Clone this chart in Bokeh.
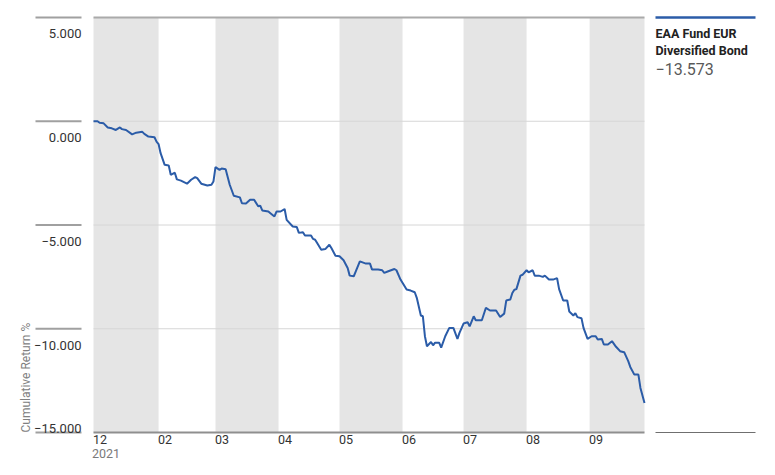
import math
import pandas as pd
from bokeh.plotting import figure
from bokeh.models import Range1d, FixedTicker, DatetimeAxis
from bokeh.core.properties import value
from bokeh.embed import file_html
from bokeh.resources import INLINE

# ---------------- data ----------------
dates = [
    "2021-12-31", "2022-01-02", "2022-01-03", "2022-01-05", "2022-01-07", "2022-01-09", "2022-01-11", "2022-01-13", "2022-01-14", "2022-01-16",
    "2022-01-19", "2022-01-21", "2022-01-24", "2022-01-25", "2022-01-27", "2022-01-30", "2022-01-31", "2022-02-01", "2022-02-02", "2022-02-04",
    "2022-02-06", "2022-02-07", "2022-02-09", "2022-02-10", "2022-02-12", "2022-02-15", "2022-02-17", "2022-02-19", "2022-02-20", "2022-02-22",
    "2022-02-25", "2022-02-27", "2022-02-28", "2022-03-01", "2022-03-03", "2022-03-04", "2022-03-06", "2022-03-08", "2022-03-10", "2022-03-13",
    "2022-03-14", "2022-03-16", "2022-03-18", "2022-03-20", "2022-03-22", "2022-03-23", "2022-03-24", "2022-03-27", "2022-03-28", "2022-03-30",
    "2022-03-31", "2022-04-02", "2022-04-04", "2022-04-05", "2022-04-08", "2022-04-10", "2022-04-11", "2022-04-13", "2022-04-14", "2022-04-17",
    "2022-04-18", "2022-04-19", "2022-04-20", "2022-04-22", "2022-04-24", "2022-04-26", "2022-04-27", "2022-04-29", "2022-05-01", "2022-05-03",
    "2022-05-05", "2022-05-06", "2022-05-08", "2022-05-09", "2022-05-11", "2022-05-14", "2022-05-16", "2022-05-17", "2022-05-20", "2022-05-22",
    "2022-05-23", "2022-05-25", "2022-05-28", "2022-05-29", "2022-05-31", "2022-06-03", "2022-06-05", "2022-06-07", "2022-06-08", "2022-06-10",
    "2022-06-11", "2022-06-12", "2022-06-13", "2022-06-15", "2022-06-16", "2022-06-17", "2022-06-19", "2022-06-20", "2022-06-22", "2022-06-24",
    "2022-06-26", "2022-06-28", "2022-06-29", "2022-07-01", "2022-07-03", "2022-07-04", "2022-07-06", "2022-07-07", "2022-07-10", "2022-07-12",
    "2022-07-14", "2022-07-17", "2022-07-19", "2022-07-21", "2022-07-22", "2022-07-24", "2022-07-25", "2022-07-26", "2022-07-27", "2022-07-29",
    "2022-07-30", "2022-08-01", "2022-08-02", "2022-08-04", "2022-08-05", "2022-08-07", "2022-08-09", "2022-08-10", "2022-08-12", "2022-08-14",
    "2022-08-16", "2022-08-17", "2022-08-19", "2022-08-21", "2022-08-22", "2022-08-24", "2022-08-25", "2022-08-26", "2022-08-28", "2022-08-29",
    "2022-08-31", "2022-09-02", "2022-09-04", "2022-09-05", "2022-09-07", "2022-09-08", "2022-09-10", "2022-09-12", "2022-09-14", "2022-09-16",
    "2022-09-18", "2022-09-20", "2022-09-21", "2022-09-23", "2022-09-25", "2022-09-26", "2022-09-28",
]
returns = [
    0.00, 0.00, -0.07, -0.10, -0.30, -0.34, -0.42, -0.30, -0.38, -0.42,
    -0.63, -0.55, -0.51, -0.61, -0.74, -0.77, -0.98, -1.10, -1.54, -2.10,
    -2.13, -2.58, -2.48, -2.80, -2.86, -3.01, -2.82, -2.69, -2.74, -3.01,
    -3.10, -3.06, -2.90, -2.21, -2.34, -2.28, -2.31, -3.06, -3.59, -3.67,
    -3.95, -3.96, -3.78, -3.78, -4.10, -4.07, -4.30, -4.35, -4.43, -4.59,
    -4.35, -4.35, -4.23, -4.75, -5.07, -5.10, -5.38, -5.35, -5.51, -5.51,
    -5.67, -5.71, -5.87, -6.19, -6.16, -5.95, -6.11, -6.48, -6.51, -6.70,
    -7.07, -7.44, -7.47, -7.23, -6.75, -6.86, -6.86, -7.15, -7.15, -7.18,
    -7.31, -7.23, -7.12, -7.18, -7.63, -8.11, -8.16, -8.24, -8.51, -9.36,
    -9.40, -10.36, -10.84, -10.64, -10.80, -10.67, -10.67, -10.91, -10.36, -9.96,
    -9.96, -10.49, -10.20, -9.75, -9.69, -9.88, -9.40, -9.59, -9.59, -8.99,
    -9.12, -9.12, -9.43, -9.27, -8.64, -8.59, -8.28, -8.12, -8.09, -7.44,
    -7.40, -7.18, -7.28, -7.18, -7.44, -7.44, -7.50, -7.44, -7.63, -7.63,
    -7.56, -8.09, -8.64, -8.64, -9.17, -9.36, -9.25, -9.44, -9.49, -9.96,
    -10.49, -10.36, -10.36, -10.52, -10.49, -10.76, -10.76, -10.60, -10.87, -11.08,
    -11.13, -11.56, -11.84, -12.21, -12.21, -12.85, -13.573,
]
band_starts = ["2021-12-31", "2022-03-01", "2022-05-01", "2022-07-01", "2022-09-01"]
band_ends = ["2022-02-01", "2022-04-01", "2022-06-01", "2022-08-01", "2022-09-28"]
month_ticks = ["2021-12-31", "2022-02-01", "2022-03-01", "2022-04-01", "2022-05-01",
               "2022-06-01", "2022-07-01", "2022-08-01", "2022-09-01"]
month_labels = ["12", "02", "03", "04", "05", "06", "07", "08", "09"]
year_ticks = ["2021-12-31"]
year_labels = ["2021"]
y_ticks = [5, 0, -5, -10, -15]
y_tick_labels = ["5.000", "0.000", "\u22125.000", "\u221210.000", "\u221215.000"]
y_title = "Cumulative Return %"
fund_name_lines = ["EAA Fund EUR", "Diversified Bond"]
last_value_label = "\u221213.573"

# ---------------- styling / layout (pixels) ----------------
FONT = "Liberation Sans Narrow, Roboto, sans-serif"
BLUE = "#2b5ca8"
W, H = 767, 467
PLOT_L, PLOT_R = 93, 644      # px where the data window starts/ends
PLOT_T, PLOT_B = 17, 432      # px of top tick / bottom tick
FRAME_B = 434
MONTH_HALF_W, YEAR_HALF_W = 6.5, 12.5   # half label widths, to left-align tick labels


def to_ms(lst):
    s = pd.to_datetime(pd.Series(lst))
    return [float(v) for v in ((s - pd.Timestamp("1970-01-01")) // pd.Timedelta(milliseconds=1))]


x = to_ms(dates)
t0, t1 = x[0], x[-1]
ms_per_px = (t1 - t0) / (PLOT_R - PLOT_L)
y_top, y_bot = max(y_ticks), min(y_ticks)
u_per_px = (y_top - y_bot) / (PLOT_B - PLOT_T)


def xpx(px):
    return t0 + (px - PLOT_L) * ms_per_px


x_range = Range1d(start=xpx(0), end=xpx(W))
y_range = Range1d(start=y_bot - (FRAME_B - PLOT_B) * u_per_px, end=y_top + PLOT_T * u_per_px)

p = figure(width=W, height=H, x_axis_type="datetime", y_axis_location=None,
           x_range=x_range, y_range=y_range, output_backend="svg", toolbar_location=None,
           min_border_left=0, min_border_right=0, min_border_top=0, min_border_bottom=H - FRAME_B,
           outline_line_color=None, background_fill_color="white", border_fill_color="white")
for g in p.grid:
    g.visible = False

# month bands
p.quad(left=to_ms(band_starts), right=to_ms(band_ends), top=y_top, bottom=y_bot,
       fill_color="#e5e5e5", line_color=None)

# gridlines inside the plot area
inner = [v for v in y_ticks if v not in (y_top, y_bot)]
p.segment(x0=[t0] * len(inner), x1=[t1] * len(inner), y0=inner, y1=inner,
          line_color="#d6d6d6", line_width=1)
p.segment(x0=[t0], x1=[t1], y0=[y_top], y1=[y_top], line_color="#aaaaaa", line_width=2)
p.segment(x0=[t0], x1=[t1], y0=[y_bot], y1=[y_bot], line_color="#8f8f8f", line_width=2)

# short tick rules on the left
p.segment(x0=[xpx(35)] * len(y_ticks), x1=[xpx(81)] * len(y_ticks), y0=y_ticks, y1=y_ticks,
          line_color="#a0a0a0", line_width=2)

# the series
p.line(x, returns, line_color=BLUE, line_width=2)

# y tick labels
p.text(x=[xpx(81)] * len(y_ticks), y=y_ticks, text=y_tick_labels,
       y_offset=[16.3, 16.3, 16.3, 16.3, -4],
       text_align="right", text_baseline="alphabetic",
       text_font=value(FONT), text_font_size="13px", text_color="#333333")

# y title
p.text(x=[xpx(25)], y=[y_bot], text=[y_title], angle=math.pi / 2,
       text_align="left", text_baseline="middle",
       text_font=value(FONT), text_font_size="12px", text_color="#808080")

# legend block on the right
p.segment(x0=[xpx(655)], x1=[xpx(755)], y0=[y_top], y1=[y_top], line_color=BLUE, line_width=2.5)
p.segment(x0=[xpx(655)], x1=[xpx(755)], y0=[y_bot], y1=[y_bot], line_color="#6f6f6f", line_width=1)
p.text(x=[xpx(655)] * 2, y=[y_top] * 2, text=fund_name_lines, y_offset=[16, 33],
       text_align="left", text_baseline="alphabetic", text_font=value(FONT),
       text_font_style="bold", text_font_size="12.5px", text_color="#222222")
p.text(x=[xpx(655)], y=[y_top], text=[last_value_label], y_offset=[51],
       text_align="left", text_baseline="alphabetic", text_font=value(FONT),
       text_font_size="16px", text_color="#595959")

# x axes: month labels, then year below (labels left-aligned at month starts)
m_ticks = [v + MONTH_HALF_W * ms_per_px for v in to_ms(month_ticks)]
y_ticks_ms = [v + YEAR_HALF_W * ms_per_px for v in to_ms(year_ticks)]

ax = p.xaxis[0]
ax.ticker = FixedTicker(ticks=m_ticks)
ax.major_label_overrides = dict(zip(m_ticks, month_labels))
ax2 = DatetimeAxis(ticker=FixedTicker(ticks=y_ticks_ms),
                   major_label_overrides=dict(zip(y_ticks_ms, year_labels)))
p.add_layout(ax2, "below")
for a, col, so in ((ax, "#333333", 0), (ax2, "#7a7a7a", 2)):
    a.axis_line_color = None
    a.major_tick_line_color = None
    a.minor_tick_line_color = None
    a.major_tick_out = 0
    a.major_tick_in = 0
    a.major_label_standoff = so
    a.major_label_text_font = FONT
    a.major_label_text_font_size = "12.5px"
    a.major_label_text_color = col

open("out.html", "w").write(file_html(p, INLINE))
